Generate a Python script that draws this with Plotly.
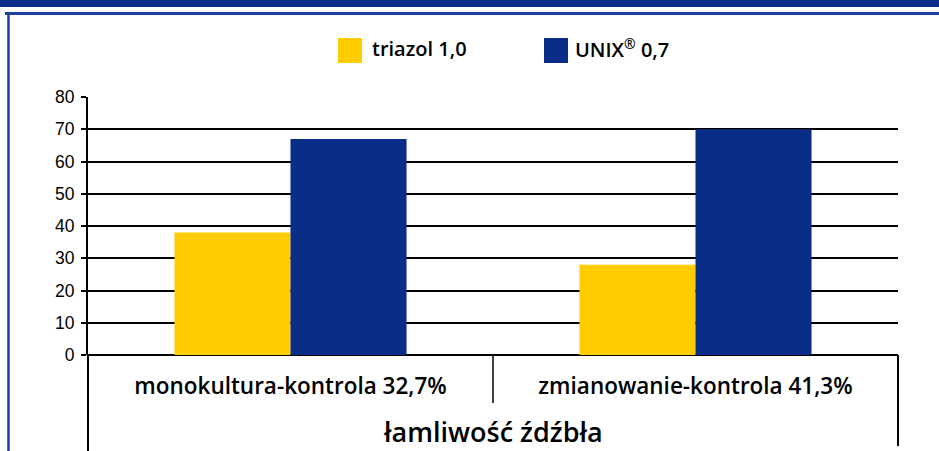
import plotly.graph_objects as go

categories = ["monokultura-kontrola 32,7%", "zmianowanie-kontrola 41,3%"]
series_names = ["triazol 1,0", "UNIX<sup>®</sup> 0,7"]
triazol = [38, 28]
unix = [67, 70]
y_ticks = [0, 10, 20, 30, 40, 50, 60, 70, 80]
x_title = "łamliwość źdźbła"

YELLOW = "#FFCC00"
NAVY = "#0A2D87"

W, H = 939, 451
L, R, T, B = 88, 41, 97, 96
PW, PH = W - L - R, H - T - B

def px(x):
    return (x - L) / PW

def py(y):
    return (H - B - y) / PH

FONT = "Open Sans"

fig = go.Figure()
fig.add_trace(go.Bar(x=categories, y=triazol, name=series_names[0],
                     marker=dict(color=YELLOW, line=dict(width=0))))
fig.add_trace(go.Bar(x=categories, y=unix, name=series_names[1],
                     marker=dict(color=NAVY, line=dict(width=0))))

shapes = [
    # header band
    dict(type="rect", xref="paper", yref="paper", x0=px(0), x1=px(W), y0=py(7), y1=py(0),
         fillcolor=NAVY, line=dict(width=0), layer="below"),
    # frame top line
    dict(type="line", xref="paper", yref="paper", x0=px(5), x1=px(W), y0=py(13.5), y1=py(13.5),
         line=dict(color="#1D429B", width=3)),
    # frame left line
    dict(type="line", xref="paper", yref="paper", x0=px(8.5), x1=px(8.5), y0=py(12), y1=py(H),
         line=dict(color="#1D429B", width=2.5)),
    # y axis extension below
    dict(type="line", xref="paper", yref="paper", x0=0, x1=0, y0=0, y1=py(H),
         line=dict(color="black", width=2)),
    # category separator
    dict(type="line", xref="paper", yref="paper", x0=0.5, x1=0.5, y0=0, y1=py(403),
         line=dict(color="black", width=1.5)),
    # right box line
    dict(type="line", xref="paper", yref="paper", x0=1, x1=1, y0=0, y1=py(446),
         line=dict(color="black", width=2)),
    # legend squares
    dict(type="rect", xref="paper", yref="paper", x0=px(338), x1=px(362), y0=py(63), y1=py(38),
         fillcolor=YELLOW, line=dict(width=0)),
    dict(type="rect", xref="paper", yref="paper", x0=px(544), x1=px(568), y0=py(63), y1=py(38),
         fillcolor=NAVY, line=dict(width=0)),
]

annotations = [
    dict(xref="paper", yref="paper", x=px(370), y=py(49), xanchor="left", yanchor="middle",
         text=series_names[0], showarrow=False,
         font=dict(family=FONT, size=20, color="black", weight=600)),
    dict(xref="paper", yref="paper", x=px(573), y=py(49), xanchor="left", yanchor="middle",
         text=series_names[1], showarrow=False,
         font=dict(family=FONT, size=20, color="black", weight=600)),
    dict(xref="paper", yref="paper", x=0.5, y=py(431), xanchor="center",
         yanchor="middle", text=x_title, showarrow=False,
         font=dict(family=FONT, size=27, color="black", weight=600)),
]

fig.update_layout(
    width=W, height=H,
    margin=dict(l=L, r=R, t=T, b=B, pad=0),
    plot_bgcolor="white", paper_bgcolor="white",
    barmode="group", bargap=0.427, bargroupgap=0,
    showlegend=False,
    shapes=shapes, annotations=annotations,
    xaxis=dict(showgrid=False, showline=False, ticks="", zeroline=False,
               tickfont=dict(family=FONT, size=22.5, color="black", weight=600),
               ticklabelstandoff=15),
    yaxis=dict(range=[0, 80], tickvals=y_ticks, showgrid=True, gridcolor="black", gridwidth=2,
               zeroline=True, zerolinecolor="black", zerolinewidth=2,
               showline=True, linecolor="black", linewidth=2,
               ticks="outside", ticklen=5, tickcolor="black", tickwidth=2,
               ticklabelstandoff=3,
               tickfont=dict(family="Liberation Sans", size=17.5, color="black")),
)

fig.write_html("out.html", config={"displayModeBar": False},
               post_script="document.body.style.margin='0';document.body.style.padding='0';")
